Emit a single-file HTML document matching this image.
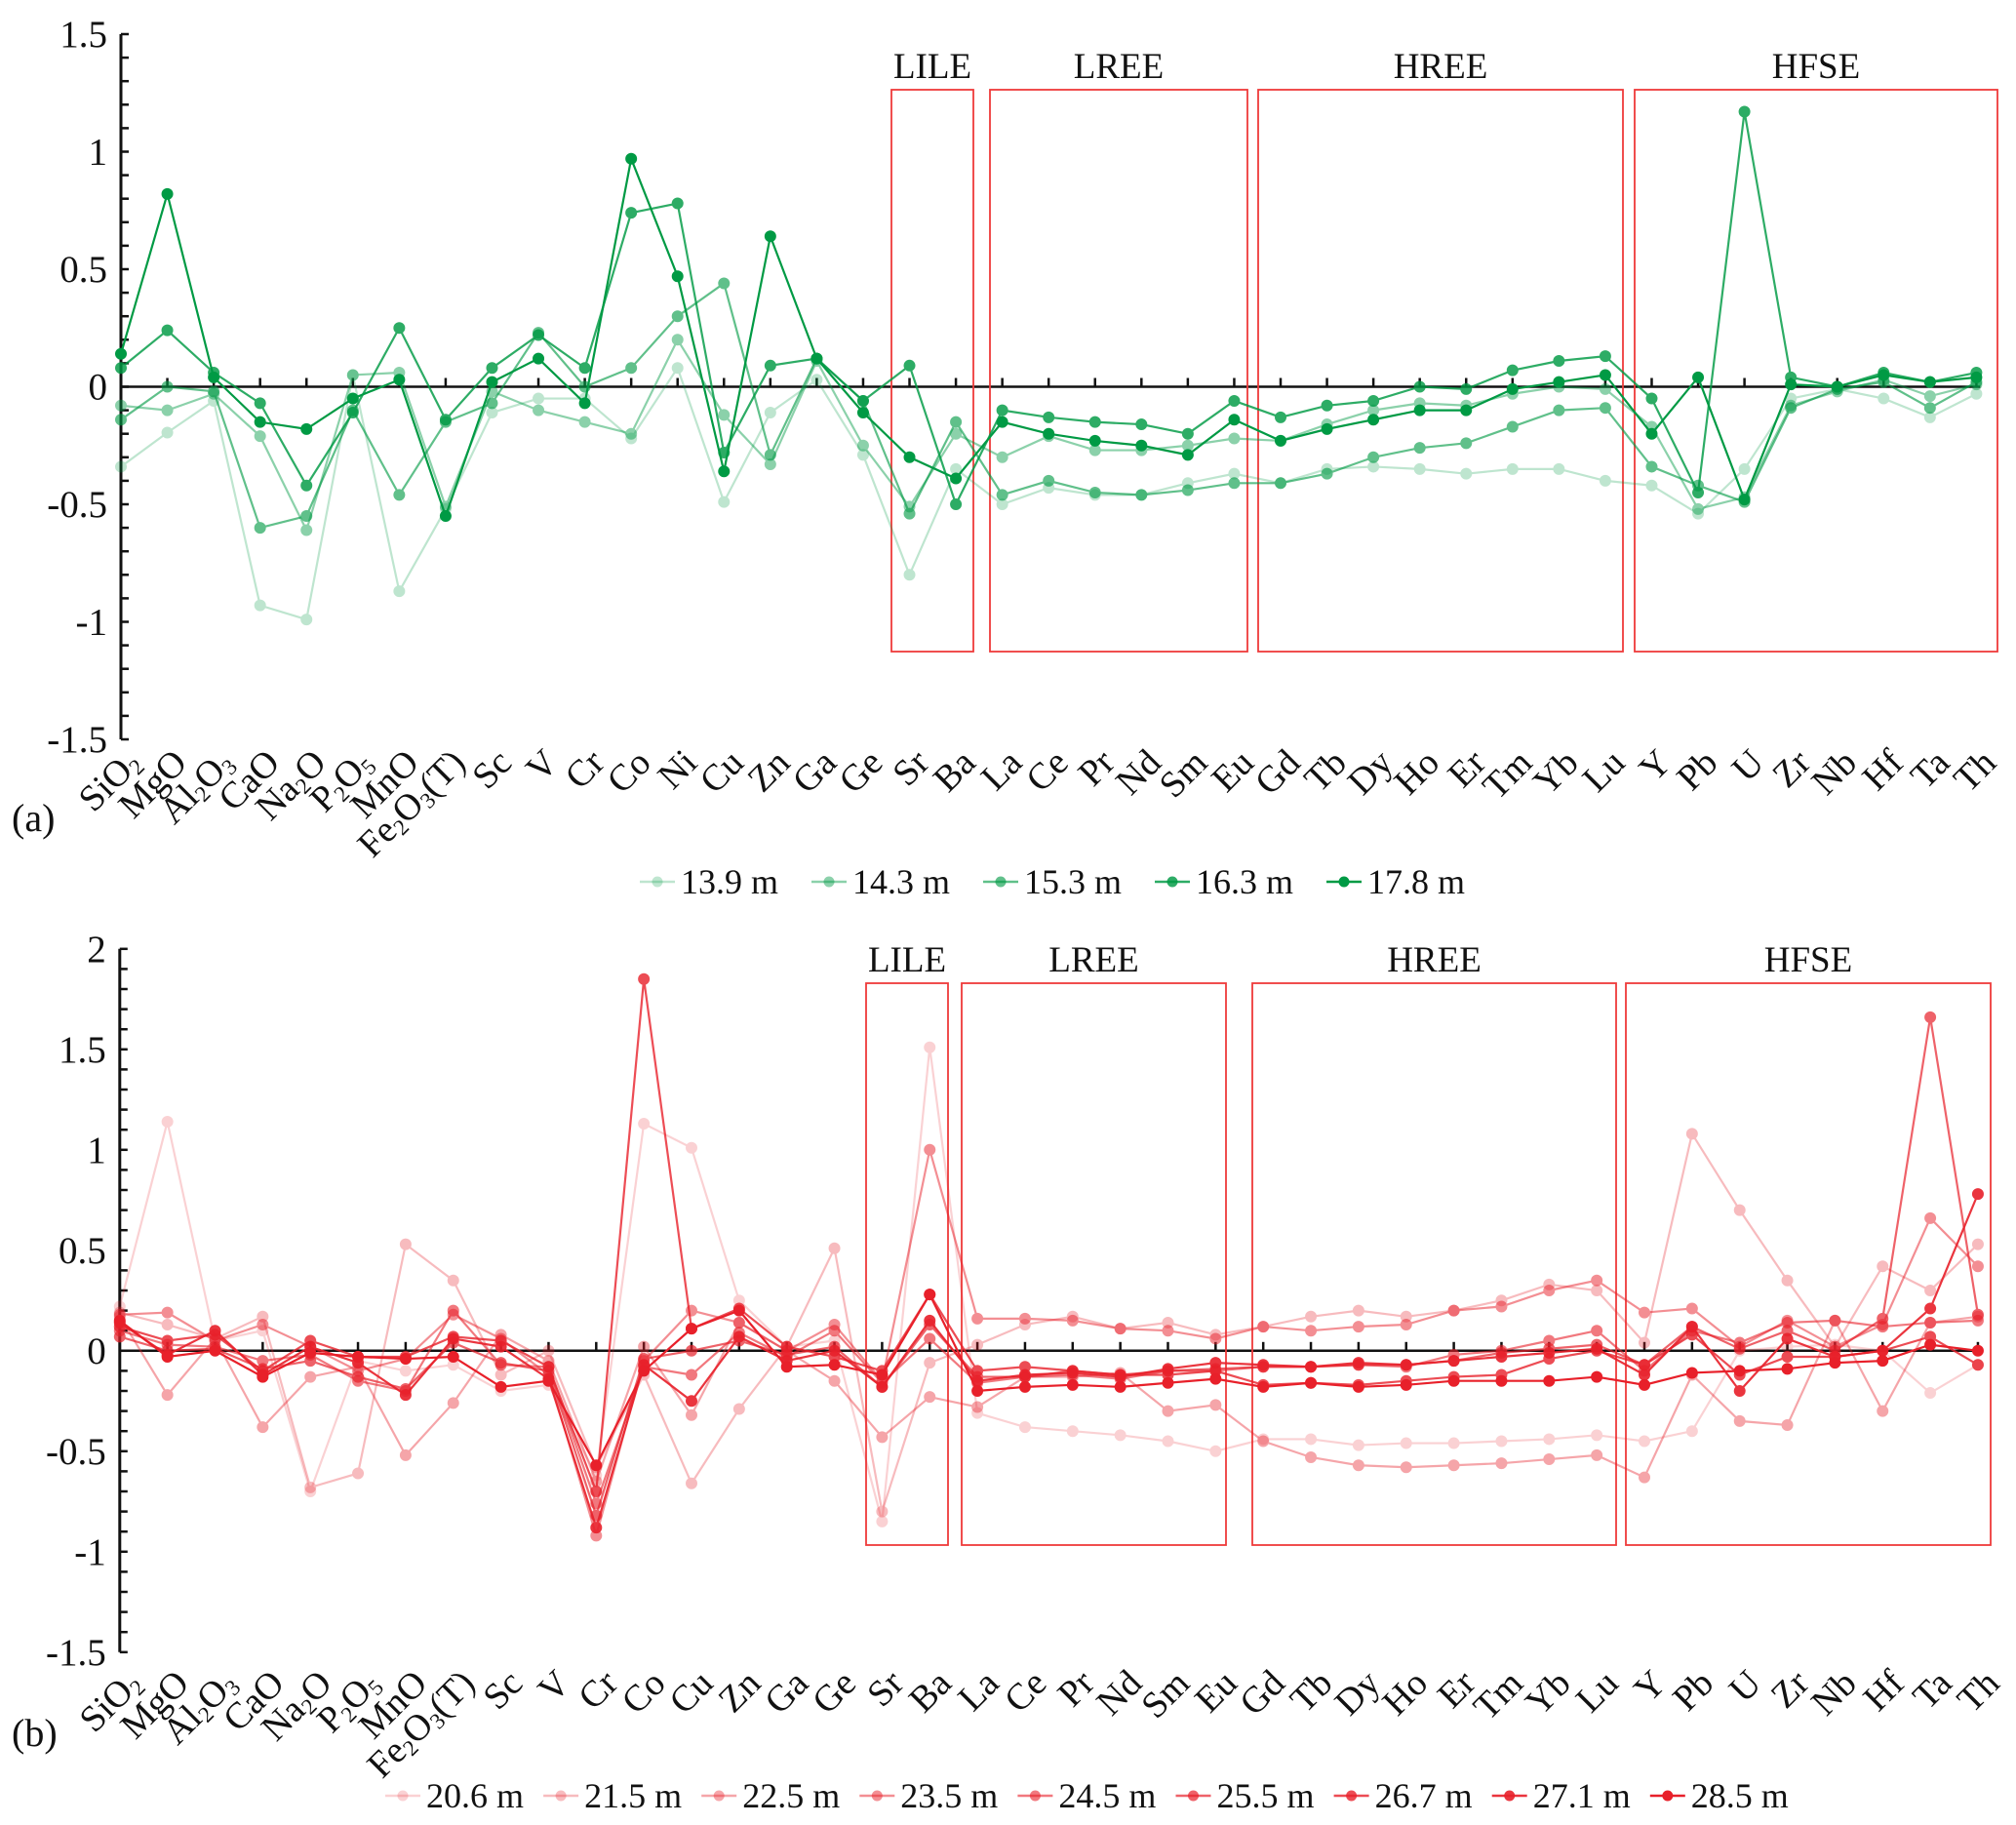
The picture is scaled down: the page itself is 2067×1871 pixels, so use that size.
<!DOCTYPE html>
<html><head><meta charset="utf-8"><style>
html,body{margin:0;padding:0;background:#fff;}
svg{display:block;}
svg text{font-family:"Liberation Serif","Times New Roman",serif;}
</style></head><body>
<svg id="chart" width="2067" height="1871" viewBox="0 0 2067 1871" xmlns="http://www.w3.org/2000/svg" font-family="Liberation Serif, serif"></svg>
<script>
const catsA = ["SiO2","MgO","Al2O3","CaO","Na2O","P2O5","MnO","Fe2O3(T)","Sc","V","Cr","Co","Ni","Cu","Zn","Ga","Ge","Sr","Ba","La","Ce","Pr","Nd","Sm","Eu","Gd","Tb","Dy","Ho","Er","Tm","Yb","Lu","Y","Pb","U","Zr","Nb","Hf","Ta","Th"];
const catsB = ["SiO2","MgO","Al2O3","CaO","Na2O","P2O5","MnO","Fe2O3(T)","Sc","V","Cr","Co","Cu","Zn","Ga","Ge","Sr","Ba","La","Ce","Pr","Nd","Sm","Eu","Gd","Tb","Dy","Ho","Er","Tm","Yb","Lu","Y","Pb","U","Zr","Nb","Hf","Ta","Th"];
const namesA = ["13.9 m","14.3 m","15.3 m","16.3 m","17.8 m"];
const namesB = ["20.6 m","21.5 m","22.5 m","23.5 m","24.5 m","25.5 m","26.7 m","27.1 m","28.5 m"];
const a139 = [-0.34,-0.195,-0.06,-0.93,-0.99,0.05,-0.87,-0.52,-0.11,-0.05,-0.05,-0.22,0.08,-0.49,-0.11,0.03,-0.29,-0.80,-0.35,-0.50,-0.43,-0.46,-0.46,-0.41,-0.37,-0.41,-0.35,-0.34,-0.35,-0.37,-0.35,-0.35,-0.40,-0.42,-0.54,-0.35,-0.05,-0.01,-0.05,-0.13,-0.03];
const a143 = [-0.08,-0.10,-0.03,-0.21,-0.61,0.05,0.06,-0.51,-0.02,-0.10,-0.15,-0.20,0.20,-0.12,-0.33,0.11,-0.25,-0.51,-0.20,-0.30,-0.21,-0.27,-0.27,-0.25,-0.22,-0.23,-0.16,-0.10,-0.07,-0.08,-0.03,0.00,-0.01,-0.17,-0.52,-0.47,-0.08,-0.02,0.03,-0.04,0.01];
const a153 = [-0.14,0.00,-0.02,-0.60,-0.55,-0.10,-0.46,-0.15,-0.07,0.23,0.00,0.08,0.30,0.44,-0.29,0.12,-0.06,-0.54,-0.15,-0.46,-0.40,-0.45,-0.46,-0.44,-0.41,-0.41,-0.37,-0.30,-0.26,-0.24,-0.17,-0.10,-0.09,-0.34,-0.42,-0.49,-0.09,-0.01,0.02,-0.09,0.02];
const a163 = [0.08,0.24,0.06,-0.07,-0.42,-0.11,0.25,-0.14,0.08,0.22,0.08,0.74,0.78,-0.28,0.09,0.12,-0.06,0.09,-0.50,-0.10,-0.13,-0.15,-0.16,-0.20,-0.06,-0.13,-0.08,-0.06,0.00,-0.01,0.07,0.11,0.13,-0.05,-0.45,1.17,0.04,0.00,0.06,0.02,0.06];
const a178 = [0.14,0.82,0.04,-0.15,-0.18,-0.05,0.03,-0.55,0.02,0.12,-0.07,0.97,0.47,-0.36,0.64,0.12,-0.11,-0.30,-0.39,-0.15,-0.20,-0.23,-0.25,-0.29,-0.14,-0.23,-0.18,-0.14,-0.10,-0.10,-0.01,0.02,0.05,-0.20,0.04,-0.48,0.01,0.00,0.05,0.02,0.04];
const b206 = [0.22,1.14,0.05,0.10,-0.70,-0.05,-0.10,-0.07,-0.20,-0.17,-0.62,1.13,1.01,0.25,0.02,0.05,-0.85,1.51,-0.31,-0.38,-0.40,-0.42,-0.45,-0.50,-0.44,-0.44,-0.47,-0.46,-0.46,-0.45,-0.44,-0.42,-0.45,-0.40,0.00,0.02,0.03,0.00,-0.21,-0.07];
const b215 = [0.19,0.13,0.06,0.17,-0.68,-0.61,0.53,0.35,-0.12,0.00,-0.58,-0.12,-0.66,-0.29,0.02,0.51,-0.80,-0.06,0.03,0.13,0.17,0.11,0.14,0.08,0.12,0.17,0.20,0.17,0.20,0.25,0.33,0.30,0.04,1.08,0.70,0.35,0.02,0.42,0.30,0.53];
const b225 = [0.17,-0.22,0.06,-0.38,-0.13,-0.08,-0.52,-0.26,0.08,-0.05,-0.65,0.02,-0.32,0.14,0.00,-0.15,-0.43,-0.23,-0.28,-0.13,-0.13,-0.11,-0.30,-0.27,-0.45,-0.53,-0.57,-0.58,-0.57,-0.56,-0.54,-0.52,-0.63,-0.12,-0.35,-0.37,0.15,-0.30,0.14,0.17];
const b235 = [0.18,0.19,0.05,0.13,0.02,-0.10,-0.04,0.18,0.06,-0.12,-0.92,-0.05,0.20,0.14,0.00,0.13,-0.15,1.00,0.16,0.16,0.15,0.11,0.10,0.06,0.12,0.10,0.12,0.13,0.20,0.22,0.30,0.35,0.19,0.21,0.02,0.15,0.02,0.13,0.66,0.42];
const b245 = [0.10,0.03,0.02,-0.05,-0.02,-0.15,-0.20,0.20,-0.07,-0.08,-0.76,-0.08,-0.12,0.09,-0.03,0.10,-0.16,0.06,-0.16,-0.13,-0.12,-0.14,-0.10,-0.10,-0.08,-0.08,-0.07,-0.08,-0.02,0.00,0.05,0.10,-0.10,0.10,0.04,0.14,0.15,0.12,0.14,0.15];
const b255 = [0.07,0.00,0.01,-0.09,-0.05,-0.13,-0.19,0.04,-0.06,-0.10,-0.82,-0.04,0.00,0.05,-0.02,0.02,-0.18,0.13,-0.13,-0.13,-0.10,-0.12,-0.10,-0.09,-0.08,-0.08,-0.07,-0.07,-0.05,-0.01,0.01,0.03,-0.07,0.12,0.01,0.10,0.00,0.16,1.66,0.18];
const b267 = [0.12,0.05,0.08,-0.10,0.05,-0.03,-0.03,0.07,0.05,-0.08,-0.70,1.85,0.11,0.21,0.02,-0.03,-0.10,0.28,-0.10,-0.08,-0.10,-0.12,-0.12,-0.10,-0.17,-0.16,-0.17,-0.15,-0.13,-0.12,-0.04,0.00,-0.07,0.08,-0.12,-0.03,-0.03,0.00,0.07,-0.07];
const b271 = [0.14,-0.02,0.10,-0.12,0.02,-0.06,-0.22,0.06,0.02,-0.14,-0.88,-0.07,-0.25,0.07,-0.05,0.00,-0.18,0.15,-0.15,-0.12,-0.11,-0.13,-0.09,-0.06,-0.07,-0.08,-0.06,-0.07,-0.05,-0.03,-0.01,0.01,-0.12,0.12,-0.20,0.06,-0.03,0.00,0.21,0.78];
const b285 = [0.15,-0.03,0.00,-0.13,-0.01,-0.03,-0.04,-0.03,-0.18,-0.15,-0.57,-0.10,0.11,0.20,-0.08,-0.07,-0.12,0.28,-0.20,-0.18,-0.17,-0.18,-0.16,-0.14,-0.18,-0.16,-0.18,-0.17,-0.15,-0.15,-0.15,-0.13,-0.17,-0.11,-0.10,-0.09,-0.06,-0.05,0.03,0.00];
const yTicksA = ["1.5","1","0.5","0","-0.5","-1","-1.5"];
const yTicksB = ["2","1.5","1","0.5","0","-0.5","-1","-1.5"];
const groups = ["LILE","LREE","HREE","HFSE"];
const seriesA = [a139,a143,a153,a163,a178];
const seriesB = [b206,b215,b225,b235,b245,b255,b267,b271,b285];

const NS = "http://www.w3.org/2000/svg";
const FONT = "Liberation Serif, Times New Roman, serif";
const svg = document.getElementById("chart");
function mk(tag, attrs, parent){
  const e = document.createElementNS(NS, tag);
  for (const k in attrs) e.setAttribute(k, attrs[k]);
  if (tag === "text") e.setAttribute("font-family", FONT);
  (parent||svg).appendChild(e);
  return e;
}
function addLabel(t, s){
  const parts = [];
  let re = /(\d)|([^\d]+)/g, r;
  while ((r = re.exec(s))) parts.push(r[1] ? {sub:true, v:r[1]} : {sub:false, v:r[2]});
  let prevSub = false;
  parts.forEach(p => {
    const ts = document.createElementNS(NS, "tspan");
    if (p.sub) { ts.setAttribute("font-size", "23"); ts.setAttribute("dy", "5"); }
    else if (prevSub) { ts.setAttribute("dy", "-5"); }
    prevSub = p.sub;
    ts.textContent = p.v;
    t.appendChild(ts);
  });
}

function panel(cfg){
  const g = mk("g", {});
  
  
  const xOf = i => cfg.x0 + i * cfg.dx;
  const yOf = v => cfg.y0 - v * cfg.unit;
  const ax = mk("line", {x1:cfg.ax, x2:cfg.ax, y1:yOf(cfg.ymax), y2:yOf(cfg.ymin), stroke:"#111", "stroke-width":3}, g);
  
  
  const nT = Math.round((cfg.ymax - cfg.ymin) * 10);
  for (let k = 0; k <= nT; k++){
    const v = cfg.ymax - k * 0.1;
    const t = mk("line", {x1:cfg.ax, x2:cfg.ax+8, y1:yOf(v), y2:yOf(v), stroke:"#111", "stroke-width":2.5}, g);
    
    
  }
  cfg.yTicks.forEach(s => {
    const v = parseFloat(s);
    const t = mk("text", {x:cfg.ax-14, y:yOf(v)+13, "text-anchor":"end", "font-size":39, fill:"#111"}, g);
    t.textContent = s;
    
    
  });
  const z = mk("line", {x1:cfg.ax, x2:xOf(cfg.cats.length-1)+4, y1:yOf(0), y2:yOf(0), stroke:"#111", "stroke-width":2.5}, g);
  
  
  cfg.cats.forEach((c, i) => {
    const tk = mk("line", {x1:xOf(i), x2:xOf(i), y1:yOf(0), y2:yOf(0)-9, stroke:"#111", "stroke-width":2.5}, g);
    
    
    const lx = xOf(i) + cfg.lx, ly = yOf(cfg.ymin) + cfg.ly;
    const t = mk("text", {x:lx, y:ly, "text-anchor":"end", "font-size":38, fill:"#111", transform:`rotate(-45 ${lx} ${ly})`}, g);
    addLabel(t, c);
    
    
  });
  cfg.boxes.forEach((b, i) => {
    const r = mk("rect", {x:b[0], y:cfg.boxTop, width:b[1]-b[0], height:cfg.boxBot-cfg.boxTop, fill:"none", stroke:"#ee3a3a", "stroke-width":1.8}, g);
    
    
    const t = mk("text", {x:(b[0]+b[1])/2, y:cfg.boxTop-12, "text-anchor":"middle", "font-size":37, fill:"#111"}, g);
    t.textContent = groups[i];
    
    
  });
  cfg.series.forEach((vals, si) => {
    const col = cfg.color, op = cfg.ops[si];
    const sg = mk("g", {opacity:op}, g);
    
    
    const pts = vals.map((v, i) => xOf(i) + "," + yOf(v)).join(" ");
    const pl = mk("polyline", {points:pts, fill:"none", stroke:col, "stroke-width":2.2}, sg);
    
    
    vals.forEach((v, i) => {
      const c = mk("circle", {cx:xOf(i), cy:yOf(v), r:5.5, fill:col, stroke:col, "stroke-width":1}, sg);
      
      
    });
  });
  cfg.names.forEach((n, i) => {
    const mx = cfg.legX0 + i * cfg.legDx, my = cfg.legY;
    const lg = mk("g", {}, g);
    
    
    mk("line", {x1:mx-18, x2:mx+18, y1:my-12, y2:my-12, stroke:cfg.color, "stroke-width":2.5, opacity:cfg.ops[i]}, lg);
    mk("circle", {cx:mx, cy:my-12, r:5.5, fill:cfg.color, opacity:cfg.ops[i]}, lg);
    const t = mk("text", {x:mx+24, y:my, "font-size":cfg.legFs, fill:"#111"}, lg);
    t.textContent = n;
  });
  const pl = mk("text", {x:12, y:cfg.panelY, "font-size":40, fill:"#111"}, g);
  pl.textContent = cfg.panelLabel;
  
  
}

panel({name:"panel-a", cats:catsA, series:seriesA, names:namesA, color:"#009a44",
  ops:[0.25,0.45,0.62,0.82,1.0], x0:124, dx:47.56, ax:124, y0:396.5, unit:241, ymax:1.5, ymin:-1.5,
  yTicks:yTicksA, lx:22, ly:26, boxTop:92, boxBot:668,
  boxes:[[914,998],[1015,1279],[1290,1664],[1676,2048]],
  legX0:674, legDx:176, legY:916, legFs:36, panelLabel:"(a)", panelY:852});
panel({name:"panel-b", cats:catsB, series:seriesB, names:namesB, color:"#e8202a",
  ops:[0.2,0.3,0.4,0.5,0.6,0.7,0.8,0.9,1.0], x0:122.8, dx:48.85, ax:122.8, y0:1384.8, unit:206, ymax:2, ymin:-1.5,
  yTicks:yTicksB, lx:24, ly:34, boxTop:1008, boxBot:1584,
  boxes:[[888,972],[986,1257],[1284,1657],[1667,2041]],
  legX0:413, legDx:162.1, legY:1853, legFs:36, panelLabel:"(b)", panelY:1790});
</script>
</body></html>
